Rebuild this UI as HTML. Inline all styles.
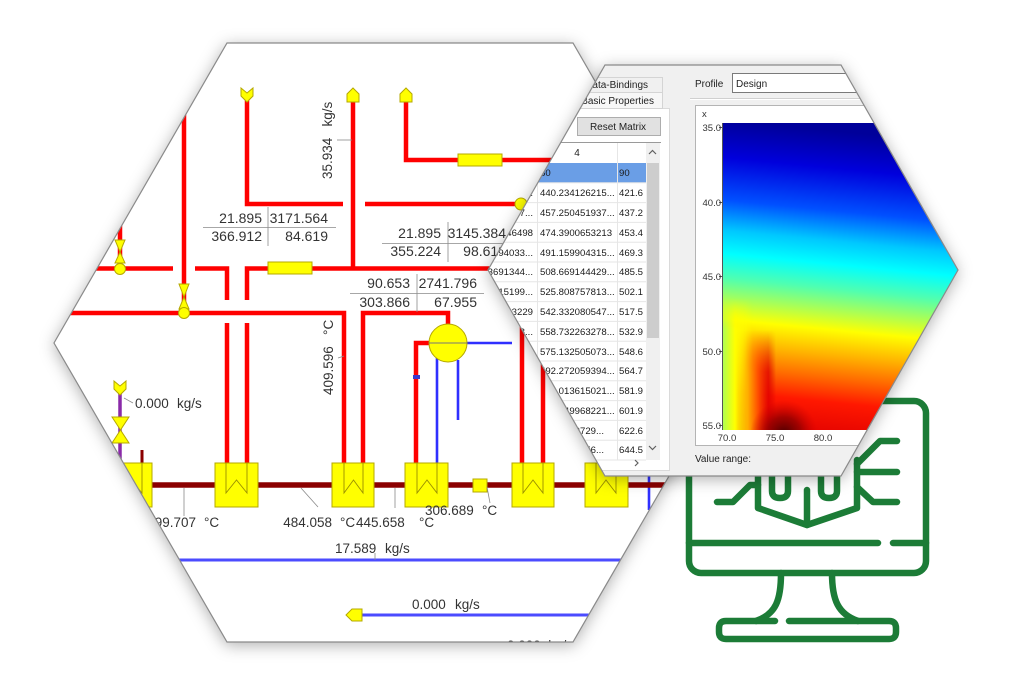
<!DOCTYPE html>
<html>
<head>
<meta charset="utf-8">
<style>
html,body{margin:0;padding:0;background:#fff;overflow:hidden;}
svg{display:block;}
</style>
</head>
<body>
<svg width="1024" height="683" viewBox="0 0 1024 683" xmlns="http://www.w3.org/2000/svg" font-family="'Liberation Sans', Arial, sans-serif">
<defs>
  <clipPath id="clipL"><polygon points="227,43 573,43 746,343 573,642 227,642 54,343"/></clipPath>
  <clipPath id="clipR"><polygon points="605,65 841,65 958,270 841,476 605,476 488,270"/></clipPath>
  <clipPath id="clipHM"><rect x="723" y="123" width="280" height="307"/></clipPath>
  <filter id="sh" x="-20%" y="-20%" width="140%" height="140%">
    <feDropShadow dx="0" dy="3" stdDeviation="8" flood-color="#000" flood-opacity="0.32"/>
  </filter>
  <linearGradient id="hv" gradientUnits="userSpaceOnUse" x1="753" y1="123" x2="723" y2="430">
    <stop offset="0" stop-color="#00009a"/>
    <stop offset="0.12" stop-color="#0000dc"/>
    <stop offset="0.257" stop-color="#0050ff"/>
    <stop offset="0.355" stop-color="#00c8ff"/>
    <stop offset="0.43" stop-color="#00ffff"/>
    <stop offset="0.51" stop-color="#50ffb0"/>
    <stop offset="0.577" stop-color="#a8ff58"/>
    <stop offset="0.642" stop-color="#ffff00"/>
    <stop offset="0.723" stop-color="#ffb400"/>
    <stop offset="0.798" stop-color="#ff6a00"/>
    <stop offset="0.876" stop-color="#ff1800"/>
    <stop offset="1" stop-color="#e00000"/>
  </linearGradient>
  <linearGradient id="hsA" gradientUnits="userSpaceOnUse" x1="723" y1="0" x2="753" y2="0">
    <stop offset="0" stop-color="#b0ff50" stop-opacity="1"/>
    <stop offset="0.4" stop-color="#ffff00" stop-opacity="1"/>
    <stop offset="0.73" stop-color="#ffff00" stop-opacity="0.6"/>
    <stop offset="1" stop-color="#ffff00" stop-opacity="0"/>
  </linearGradient>
  <linearGradient id="hsB" gradientUnits="userSpaceOnUse" x1="738" y1="0" x2="776" y2="0">
    <stop offset="0" stop-color="#ffff00" stop-opacity="0"/>
    <stop offset="0.25" stop-color="#ffb000" stop-opacity="1"/>
    <stop offset="0.52" stop-color="#ff5000" stop-opacity="1"/>
    <stop offset="0.8" stop-color="#e00000" stop-opacity="0.8"/>
    <stop offset="1" stop-color="#d00000" stop-opacity="0"/>
  </linearGradient>
  <linearGradient id="mgA" gradientUnits="userSpaceOnUse" x1="0" y1="298" x2="0" y2="330">
    <stop offset="0" stop-color="#000"/>
    <stop offset="1" stop-color="#fff"/>
  </linearGradient>
  <linearGradient id="mgB" gradientUnits="userSpaceOnUse" x1="0" y1="330" x2="0" y2="372">
    <stop offset="0" stop-color="#000"/>
    <stop offset="1" stop-color="#fff"/>
  </linearGradient>
  <mask id="msA" maskUnits="userSpaceOnUse" x="700" y="280" width="120" height="160">
    <rect x="700" y="280" width="120" height="160" fill="url(#mgA)"/>
  </mask>
  <mask id="msB" maskUnits="userSpaceOnUse" x="700" y="280" width="120" height="160">
    <rect x="700" y="280" width="120" height="160" fill="url(#mgB)"/>
  </mask>
  <radialGradient id="dk" gradientUnits="userSpaceOnUse" cx="784" cy="434" r="34">
    <stop offset="0" stop-color="#4a0000" stop-opacity="1"/>
    <stop offset="0.5" stop-color="#900000" stop-opacity="0.8"/>
    <stop offset="1" stop-color="#d00000" stop-opacity="0"/>
  </radialGradient>
</defs>

<rect x="0" y="0" width="1024" height="683" fill="#fff"/>

<!-- LEFT HEX -->
<polygon points="227,43 573,43 746,343 573,642 227,642 54,343" fill="#fff" filter="url(#sh)"/>
<g clip-path="url(#clipL)">
  <rect x="0" y="0" width="1024" height="683" fill="#fff"/>
  <g fill="none" stroke="#ff0000" stroke-width="4.5">
    <path d="M247,97 V204 H343"/>
    <path d="M365,204 H560"/>
    <path d="M353,97 V268.5"/>
    <path d="M406,97 V160 H600"/>
    <path d="M600,268.5 H247 V300 M247,323 V463"/>
    <path d="M0,268.5 H173 M195,268.5 H227 V300 M227,323 V463"/>
    <path d="M184,80 V313"/>
    <path d="M120,200 V269"/>
    <path d="M0,313 H344 V463"/>
    <path d="M363,463 V313 H448 V325"/>
    <path d="M416,463 V343 H430"/>
    <path d="M522,463 V250"/>
    <path d="M543,463 V250"/>
  </g>
  <g fill="none" stroke="#2f2fff" stroke-width="2.6">
    <path d="M449,343 H512"/>
    <path d="M437,356 V463"/>
    <path d="M458,360 V420"/>
    <path d="M649,430 V510"/>
  </g>
  <path d="M0,560 H700" stroke="#4b4bff" stroke-width="3"/>
  <path d="M358,615 H700" stroke="#4b4bff" stroke-width="3"/>
  <path d="M120,388 V465" stroke="#8a2aa8" stroke-width="3.5"/>
  <path d="M0,485 H700" stroke="#8b0000" stroke-width="5.5"/>
  <path d="M142,450 V463" stroke="#8b0000" stroke-width="3"/>

  <g fill="#ffff00" stroke="#b5a800" stroke-width="1">
    <rect x="108" y="463" width="44" height="44"/>
    <rect x="215" y="463" width="43" height="44"/>
    <rect x="332" y="463" width="42" height="44"/>
    <rect x="405" y="463" width="43" height="44"/>
    <rect x="512" y="463" width="42" height="44"/>
    <rect x="585" y="463" width="43" height="44"/>
    <rect x="473" y="479" width="14" height="13"/>
    <rect x="458" y="154" width="44" height="12"/>
    <rect x="268" y="262" width="44" height="12"/>
    <circle cx="448" cy="343" r="19"/>
    <circle cx="521" cy="204" r="6"/>
    <polygon points="179,284 189,284 184,297"/>
    <polygon points="184,297 179,309 189,309"/>
    <circle cx="184" cy="313" r="5.5"/>
    <polygon points="115,240 125,240 120,252"/>
    <polygon points="120,252 115,263 125,263"/>
    <circle cx="120" cy="269" r="5.5"/>
    <polygon points="112,417 129,417 120.5,430"/>
    <polygon points="120.5,430 112,443 129,443"/>
    <polygon points="241,88 247,93 253,88 253,96 247,102 241,96"/>
    <polygon points="347,102 347,94 353,88 359,94 359,102"/>
    <polygon points="400,102 400,94 406,88 412,94 412,102"/>
    <polygon points="114,381 120,386 126,381 126,389 120,395 114,389"/>
    <polygon points="362,609 352,609 346,615 352,621 362,621"/>
  </g>
  <g fill="none" stroke="#9a9000" stroke-width="0.9">
    <path d="M121,463 V493 L131,480 L142,493 V463"/>
    <path d="M226,463 V493 L236.5,480 L247,493 V463"/>
    <path d="M344,463 V493 L353.5,480 L363,493 V463"/>
    <path d="M417,463 V493 L427,480 L437,493 V463"/>
    <path d="M523,463 V493 L533,480 L543,493 V463"/>
    <path d="M596,463 V493 L606,480 L616,493 V463"/>
    <path d="M429,343 H467" stroke="#777"/>
  </g>
  <rect x="413" y="375" width="7" height="4" fill="#3a3acc"/>

  <g stroke="#8a8a8a" stroke-width="0.8" fill="none">
    <path d="M337,140 H352"/>
    <path d="M338,358 L344,356"/>
    <path d="M124,398 L133,403"/>
    <path d="M184,488 V516"/>
    <path d="M301,488 L318,507"/>
    <path d="M395,488 V508"/>
    <path d="M487,487 L490,503"/>
    <path d="M375,553 V560"/>
    <path d="M268,207 V246 M203,227.5 H336"/>
    <path d="M448,222 V262 M382,243.5 H520"/>
    <path d="M417,274 V312 M350,293.5 H484"/>
  </g>

  <g fill="#333" font-size="14">
    <text x="262" y="223" text-anchor="end">21.895</text>
    <text x="328" y="223" text-anchor="end">3171.564</text>
    <text x="262" y="241" text-anchor="end">366.912</text>
    <text x="328" y="241" text-anchor="end">84.619</text>
    <text x="441" y="238" text-anchor="end">21.895</text>
    <text x="506" y="238" text-anchor="end">3145.384</text>
    <text x="441" y="256" text-anchor="end">355.224</text>
    <text x="506" y="256" text-anchor="end">98.619</text>
    <text x="410" y="288" text-anchor="end">90.653</text>
    <text x="477" y="288" text-anchor="end">2741.796</text>
    <text x="410" y="307" text-anchor="end">303.866</text>
    <text x="477" y="307" text-anchor="end">67.955</text>
  </g>
  <g fill="#333" font-size="13.5">
    <text transform="translate(332,179) rotate(-90)">35.934&#160;&#160;&#160;kg/s</text>
    <text transform="translate(333,395) rotate(-90)">409.596&#160;&#160;&#160;°C</text>
    <text x="196" y="527" text-anchor="end">399.707</text>
    <text x="204" y="527">°C</text>
    <text x="332" y="527" text-anchor="end">484.058</text>
    <text x="340" y="527">°C</text>
    <text x="356" y="527">445.658</text>
    <text x="419" y="527">°C</text>
    <text x="425" y="515">306.689</text>
    <text x="482" y="515">°C</text>
    <text x="335" y="553">17.589</text>
    <text x="385" y="553">kg/s</text>
    <text x="412" y="609">0.000</text>
    <text x="455" y="609">kg/s</text>
    <text x="135" y="408">0.000</text>
    <text x="177" y="408">kg/s</text>
    <text x="507" y="650">0.000&#160;&#160;kg/s</text>
  </g>
</g>
<polygon points="227,43 573,43 746,343 573,642 227,642 54,343" fill="none" stroke="#8a8a8a" stroke-width="1.2"/>

<!-- MONITOR ICON -->
<g fill="none" stroke="#1c7c37" stroke-width="6.5" stroke-linecap="round" stroke-linejoin="round">
  <rect x="689" y="401" width="237" height="172" rx="12"/>
  <path d="M689,543 H878 M893,543 H926"/>
  <path d="M781,573 C781,600 776,614 756,621"/>
  <path d="M832,573 C832,600 838,614 858,621"/>
  <path d="M775,621 H726 Q719,621 719,628 V632 Q719,639 726,639 H889 Q896,639 896,632 V628 Q896,621 889,621 H789"/>
  <path d="M758,460 V508 L807,525 L857,508 V460"/>
  <path d="M807,525 V490"/>
  <path d="M772,460 V491 Q772,498 780,498 Q788,498 788,491 V460"/>
  <path d="M821,460 V491 Q821,498 829,498 Q837,498 837,491 V460"/>
  <path d="M717,502 H733 L750,485 H758"/>
  <path d="M857,464 L863,458 L880,441 H897"/>
  <path d="M857,472 H897"/>
  <path d="M857,487 L873,502 H897"/>
</g>

<!-- RIGHT HEX -->
<polygon points="605,65 841,65 958,270 841,476 605,476 488,270" fill="#f0f0f0" filter="url(#sh)"/>
<g clip-path="url(#clipR)">
  <rect x="470" y="60" width="500" height="420" fill="#f0f0f0"/>
  <rect x="440.5" y="108.5" width="229" height="362" fill="#fff" stroke="#dadada"/>
  <rect x="540.5" y="77.5" width="122" height="15" fill="#f0f0f0" stroke="#d4d4d4"/>
  <rect x="540.5" y="92.5" width="122" height="16" fill="#f7f7f7" stroke="#d4d4d4"/>
  <g fill="#222" font-size="10">
    <text x="648" y="88" text-anchor="end">Data-Bindings</text>
    <text x="654" y="104" text-anchor="end">Basic Properties</text>
  </g>
  <rect x="577.5" y="117.5" width="83" height="18" fill="#e1e1e1" stroke="#adadad"/>
  <text x="618" y="130" font-size="10" fill="#222" text-anchor="middle">Reset Matrix</text>

  <line x1="440" y1="142.5" x2="661" y2="142.5" stroke="#9a9a9a"/>
  <text x="577" y="156" font-size="10" fill="#222" text-anchor="middle">4</text>
  <rect x="440" y="163" width="206" height="19.8" fill="#6a9ee6"/>

  <g stroke="#e6e6e6" stroke-width="1">
    <path d="M440,182.8 H646 M440,202.6 H646 M440,222.4 H646 M440,242.2 H646 M440,262 H646 M440,281.8 H646 M440,301.6 H646 M440,321.4 H646 M440,341.2 H646 M440,361 H646 M440,380.8 H646 M440,400.6 H646 M440,420.4 H646 M440,440.2 H646 M440,460 H646"/>
    <path d="M537.5,143 V460 M617.5,143 V460"/>
  </g>

  <g fill="#1a1a1a" font-size="9.6">
    <text x="540" y="176">80</text><text x="619" y="176">90</text>
    <text x="533" y="196" text-anchor="end">405.12457862...</text>
    <text x="533" y="216" text-anchor="end">421.89350417...</text>
    <text x="533" y="236" text-anchor="end">438.406946498</text>
    <text x="533" y="256" text-anchor="end">454.63694033...</text>
    <text x="533" y="275" text-anchor="end">470.23691344...</text>
    <text x="533" y="295" text-anchor="end">486.02415199...</text>
    <text x="533" y="315" text-anchor="end">501.618423229</text>
    <text x="533" y="335" text-anchor="end">517.20381548...</text>

    <text x="540" y="196">440.234126215...</text><text x="619" y="196">421.6</text>
    <text x="540" y="216">457.250451937...</text><text x="619" y="216">437.2</text>
    <text x="540" y="236">474.3900653213</text><text x="619" y="236">453.4</text>
    <text x="540" y="256">491.159904315...</text><text x="619" y="256">469.3</text>
    <text x="540" y="275">508.669144429...</text><text x="619" y="275">485.5</text>
    <text x="540" y="295">525.808757813...</text><text x="619" y="295">502.1</text>
    <text x="540" y="315">542.332080547...</text><text x="619" y="315">517.5</text>
    <text x="540" y="335">558.732263278...</text><text x="619" y="335">532.9</text>
    <text x="540" y="355">575.132505073...</text><text x="619" y="355">548.6</text>
    <text x="540" y="374">592.272059394...</text><text x="619" y="374">564.7</text>
    <text x="540" y="394">609.013615021...</text><text x="619" y="394">581.9</text>
    <text x="540" y="414">627.149968221...</text><text x="619" y="414">601.9</text>
    <text x="540" y="434">645.6322729...</text><text x="619" y="434">622.6</text>
    <text x="540" y="453">667.4086956...</text><text x="619" y="453">644.5</text>
  </g>
  <polygon points="567,432 571,425 575,432" fill="#000"/>

  <rect x="646" y="143" width="14" height="317" fill="#f0f0f0"/>
  <rect x="647" y="163" width="12" height="175" fill="#cdcdcd"/>
  <g fill="none" stroke="#606060" stroke-width="1.2">
    <polyline points="649,154 652.5,150.5 656,154"/>
    <polyline points="649,446 652.5,449.5 656,446"/>
    <polyline points="635,460 638,463 635,466"/>
  </g>

  <!-- right panel -->
  <text x="695" y="87" font-size="10" fill="#222">Profile</text>
  <rect x="732.5" y="73.5" width="280" height="19" fill="#fff" stroke="#7a7a7a"/>
  <text x="736" y="87" font-size="10" fill="#222">Design</text>
  <line x1="690" y1="98.5" x2="1000" y2="98.5" stroke="#d0d0d0"/>
  <line x1="690" y1="99.5" x2="1000" y2="99.5" stroke="#ffffff"/>
  <rect x="695.5" y="105.5" width="300" height="340" fill="#fff" stroke="#b4b4b4"/>

  <g clip-path="url(#clipHM)">
    <rect x="723" y="123" width="280" height="307" fill="url(#hv)"/>
    <rect x="723" y="285" width="32" height="150" fill="url(#hsA)" mask="url(#msA)"/>
    <rect x="738" y="285" width="40" height="150" fill="url(#hsB)" mask="url(#msB)"/>
    <rect x="740" y="390" width="90" height="45" fill="url(#dk)"/>
  </g>
  <line x1="722.5" y1="123" x2="722.5" y2="430" stroke="#555"/>
  <g stroke="#555">
    <path d="M719,127.5 H723 M719,202.5 H723 M719,276.5 H723 M719,351.5 H723 M719,425.5 H723"/>
  </g>
  <g font-size="9.5" fill="#333">
    <text x="702" y="117">x</text>
    <text x="721" y="131" text-anchor="end">35.0</text>
    <text x="721" y="206" text-anchor="end">40.0</text>
    <text x="721" y="280" text-anchor="end">45.0</text>
    <text x="721" y="355" text-anchor="end">50.0</text>
    <text x="721" y="429" text-anchor="end">55.0</text>
    <text x="727" y="441" text-anchor="middle">70.0</text>
    <text x="775" y="441" text-anchor="middle">75.0</text>
    <text x="823" y="441" text-anchor="middle">80.0</text>
  </g>
  <text x="695" y="462" font-size="10" fill="#222">Value range:</text>
</g>
<polygon points="605,65 841,65 958,270 841,476 605,476 488,270" fill="none" stroke="#8a8a8a" stroke-width="1.2"/>
</svg>
</body>
</html>
